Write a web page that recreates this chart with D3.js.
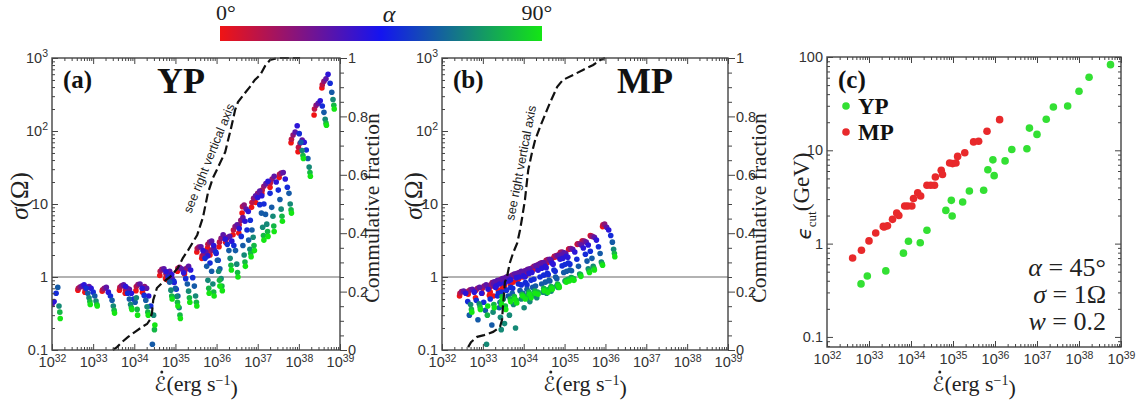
<!DOCTYPE html>
<html><head><meta charset="utf-8">
<script src="https://cdn.jsdelivr.net/npm/d3@7"></script>
<style>body{margin:0;background:#fff;}svg{display:block;}
.serif{font-family:"Liberation Serif","Times New Roman",serif;}
.sans{font-family:"Liberation Sans",Arial,Helvetica,sans-serif;}
</style>
</head><body>
<svg id="fig" width="1145" height="401"></svg>
<script>
// ---------------- DATA ----------------
const alphaDeg = [0, 10, 20, 30, 40, 50, 60, 70, 80, 90];
// horizontal offset (dex) of each alpha within one pulsar's streak
const alphaShiftDex = [0, 0.01, 0.05, 0.10, 0.15, 0.20, 0.24, 0.27, 0.29, 0.30];

// Panel (a) YP: log10 Edot of the alpha=0 point, sigma per alpha
const ypLogEdot = [31.90, 32.63, 32.80, 33.22, 33.64, 33.78, 34.04, 34.20, 34.62, 34.76, 34.82, 35.05, 35.22,
  35.52, 35.64, 35.78, 35.84, 36.06, 36.22, 36.40, 36.54, 36.62, 36.85, 36.95, 37.10, 37.30, 37.52, 37.81, 37.98,
  38.37, 38.56];
const ypSigma = [
  [0.5, 0.49, 0.45, 0.42, 0.46, 0.6, 0.72, 0.4, 0.33, 0.27],
  [0.66, 0.7, 0.73, 0.75, 0.78, 0.7, 0.6, 0.52, 0.46, 0.42],
  [0.62, 0.68, 0.72, 0.74, 0.7, 0.62, 0.55, 0.47, 0.42, 0.4],
  [0.64, 0.67, 0.7, 0.72, 0.62, 0.55, 0.48, 0.4, 0.35, 0.32],
  [0.66, 0.72, 0.76, 0.78, 0.74, 0.6, 0.5, 0.42, 0.38, 0.36],
  [0.6, 0.67, 0.7, 0.68, 0.6, 0.5, 0.45, 0.52, 0.36, 0.3],
  [0.65, 0.74, 0.79, 0.8, 0.7, 0.56, 0.48, 0.39, 0.33, 0.3],
  [0.62, 0.7, 0.74, 0.7, 0.55, 0.4, 0.12, 0.3, 0.19, 0.22],
  [1.05, 1.2, 1.27, 1.3, 1.18, 1.0, 0.85, 0.66, 0.55, 0.5],
  [0.95, 1.1, 1.17, 1.2, 1.08, 0.88, 0.7, 0.54, 0.45, 0.4],
  [0.9, 0.98, 1.0, 0.95, 0.84, 0.68, 0.55, 0.38, 0.3, 0.27],
  [1.2, 1.32, 1.36, 1.3, 1.14, 0.95, 0.8, 0.64, 0.52, 0.45],
  [1.1, 1.22, 1.32, 1.4, 1.25, 0.98, 0.75, 0.55, 0.45, 0.4],
  [2.2, 2.45, 2.58, 2.6, 2.3, 1.8, 1.4, 0.9, 0.7, 0.6],
  [1.8, 1.95, 2.1, 2.2, 1.95, 1.55, 1.2, 0.8, 0.62, 0.55],
  [2.5, 2.8, 3.0, 3.1, 2.7, 2.2, 1.7, 1.2, 0.9, 0.75],
  [2.0, 2.25, 2.35, 2.4, 2.1, 1.7, 1.3, 0.95, 0.75, 0.65],
  [2.6, 3.0, 3.4, 3.8, 3.3, 2.8, 2.3, 1.8, 1.45, 1.25],
  [3.0, 3.3, 3.5, 3.6, 3.1, 2.7, 2.3, 1.5, 1.15, 1.0],
  [3.8, 4.4, 4.9, 5.2, 4.6, 3.6, 2.7, 2.0, 1.6, 1.4],
  [4.0, 5.2, 6.0, 6.5, 5.8, 4.4, 3.2, 2.4, 2.1, 1.9],
  [7.5, 9.2, 9.7, 8.5, 7.9, 6.0, 4.4, 3.5, 2.7, 2.3],
  [9.0, 10.5, 12, 13, 12.3, 9.8, 7.5, 4.8, 3.7, 3.2],
  [10.5, 12.5, 14, 15, 13, 10, 7.2, 5.3, 4.2, 3.6],
  [14, 15.5, 17.5, 19, 20.5, 14, 9, 6.8, 5, 4.2],
  [17, 19.5, 22, 24, 20, 15.5, 11.5, 8.5, 6.8, 5.8],
  [23, 25.5, 26.5, 27, 22, 17, 14, 10, 8.3, 7.5],
  [69, 77, 88, 97, 118, 92, 70, 54, 46, 42],
  [52, 60, 68, 75, 70, 55, 42, 32, 27, 24],
  [166, 200, 225, 240, 260, 220, 180, 145, 128, 120],
  [389, 430, 480, 520, 600, 450, 340, 270, 225, 200]
];

// Panel (b) MP
const mpLogEdot = [32.43, 32.64, 32.82, 32.98, 33.16, 33.18, 33.26, 33.38, 33.48, 33.53, 33.67, 33.74, 33.84, 33.88,
  33.98, 34.05, 34.20, 34.29, 34.38, 34.40, 34.54, 34.57, 34.74, 34.81, 34.89, 34.93, 35.10, 35.31, 35.43, 35.63, 35.93];
const mpSigma = [
  [0.55, 0.6, 0.63, 0.64, 0.6, 0.46, 0.3, 0.42, 0.36, 0.33],
  [0.58, 0.64, 0.67, 0.68, 0.62, 0.48, 0.26, 0.43, 0.39, 0.36],
  [0.52, 0.66, 0.7, 0.72, 0.6, 0.45, 0.35, 0.12, 0.3, 0.4],
  [0.6, 0.7, 0.75, 0.78, 0.68, 0.5, 0.22, 0.33, 0.42, 0.38],
  [0.56, 0.72, 0.77, 0.8, 0.72, 0.55, 0.38, 0.28, 0.46, 0.42],
  [0.62, 0.78, 0.84, 0.86, 0.76, 0.6, 0.45, 0.19, 0.54, 0.5],
  [0.55, 0.75, 0.85, 0.9, 0.8, 0.62, 0.5, 0.23, 0.4, 0.36],
  [0.66, 0.85, 0.92, 0.95, 0.82, 0.66, 0.55, 0.3, 0.5, 0.46],
  [0.7, 0.9, 0.97, 1.0, 0.88, 0.72, 0.6, 0.42, 0.54, 0.5],
  [0.74, 0.92, 0.99, 1.02, 0.92, 0.7, 0.52, 0.2, 0.48, 0.44],
  [0.8, 0.98, 1.06, 1.1, 0.98, 0.8, 0.65, 0.5, 0.58, 0.55],
  [0.85, 1.02, 1.09, 1.12, 1.0, 0.78, 0.6, 0.38, 0.54, 0.5],
  [0.9, 1.07, 1.15, 1.2, 1.04, 0.84, 0.68, 0.52, 0.62, 0.58],
  [0.95, 1.1, 1.15, 1.18, 1.0, 0.78, 0.6, 0.46, 0.56, 0.52],
  [1.0, 1.16, 1.22, 1.25, 1.12, 0.9, 0.72, 0.56, 0.64, 0.6],
  [1.05, 1.2, 1.27, 1.3, 1.15, 0.93, 0.75, 0.52, 0.62, 0.58],
  [1.2, 1.34, 1.4, 1.42, 1.24, 1.0, 0.8, 0.62, 0.7, 0.65],
  [1.3, 1.42, 1.47, 1.5, 1.32, 1.06, 0.85, 0.6, 0.67, 0.62],
  [1.42, 1.52, 1.56, 1.58, 1.4, 1.12, 0.9, 0.7, 0.74, 0.7],
  [1.35, 1.47, 1.5, 1.52, 1.34, 1.08, 0.88, 0.64, 0.72, 0.68],
  [1.6, 1.7, 1.74, 1.75, 1.55, 1.25, 1.0, 0.76, 0.8, 0.76],
  [1.55, 1.65, 1.69, 1.7, 1.5, 1.2, 0.95, 0.72, 0.76, 0.72],
  [1.85, 1.92, 1.95, 1.95, 1.75, 1.42, 1.15, 0.88, 0.9, 0.85],
  [1.9, 1.98, 2.0, 2.0, 1.8, 1.48, 1.2, 0.92, 0.93, 0.88],
  [2.1, 2.18, 2.2, 2.15, 1.92, 1.55, 1.25, 0.98, 0.97, 0.92],
  [2.0, 2.1, 2.12, 2.1, 1.86, 1.5, 1.22, 0.95, 0.95, 0.9],
  [2.4, 2.44, 2.45, 2.4, 2.2, 1.75, 1.4, 1.1, 1.08, 1.02],
  [2.8, 2.84, 2.85, 2.75, 2.5, 2.05, 1.65, 1.3, 1.22, 1.15],
  [3.1, 3.12, 3.1, 3.0, 2.75, 2.25, 1.8, 1.4, 1.32, 1.25],
  [3.7, 3.65, 3.6, 3.5, 3.2, 2.6, 2.1, 1.6, 1.52, 1.45],
  [4.9, 5.2, 5.3, 4.8, 4.4, 3.7, 3.0, 2.4, 2.1, 1.9]
];

// Cumulative fraction curves (right axis)
const cumYpLogEdot = [33.48, 33.58, 33.70, 33.85, 34.02, 34.19, 34.31, 34.38, 34.43, 34.46, 34.55, 34.67, 34.87, 35.06,
  35.18, 35.31, 35.53, 35.67, 35.79, 35.91, 36.04, 36.21, 36.28, 36.33, 36.38, 36.45, 36.52, 36.69, 36.81, 36.93,
  37.06, 37.18, 37.30, 37.49, 38.03];
const cumYpFrac = [0, 0.010, 0.027, 0.045, 0.062, 0.079, 0.089, 0.103, 0.127, 0.171, 0.212, 0.229, 0.25, 0.281,
  0.315, 0.342, 0.394, 0.455, 0.538, 0.589, 0.627, 0.678, 0.719, 0.747, 0.777, 0.822, 0.849, 0.880, 0.901, 0.925,
  0.942, 0.973, 0.993, 1.0, 1.0];
const cumMpLogEdot = [32.64, 32.71, 32.86, 33.03, 33.25, 33.42, 33.47, 33.49, 33.52, 33.54, 33.59, 33.66, 33.74, 33.84,
  33.91, 33.96, 34.03, 34.11, 34.20, 34.28, 34.40, 34.52, 34.64, 34.82, 34.96, 35.21, 35.45, 35.70, 35.87, 35.99];
const cumMpFrac = [0.010, 0.027, 0.045, 0.051, 0.062, 0.079, 0.103, 0.147, 0.195, 0.233, 0.25, 0.298, 0.332, 0.366,
  0.411, 0.452, 0.514, 0.616, 0.675, 0.719, 0.764, 0.805, 0.846, 0.901, 0.925, 0.942, 0.959, 0.976, 0.993, 1.0];

// Panel (c): cutoff energy at alpha=45, sigma=1, w=0.2
const cutYpLogEdot = [32.81, 32.96, 33.40, 33.82, 33.94, 34.22, 34.38, 34.83, 34.96, 34.98, 35.23, 35.39, 35.73, 35.83,
  35.95, 35.98, 36.24, 36.40, 36.76, 36.82, 37.00, 37.22, 37.39, 37.73, 38.00, 38.24, 38.75];
const cutYpGeV = [0.37, 0.45, 0.51, 0.79, 1.06, 1.02, 1.39, 2.27, 2.91, 1.98, 2.79, 3.66, 3.73, 6.2, 7.9, 5.35, 7.7,
  10.2, 10.4, 17.3, 14.8, 21.5, 29.1, 29.9, 42.9, 60.6, 82.8];
const cutMpLogEdot = [32.61, 32.82, 33.00, 33.16, 33.34, 33.36, 33.44, 33.56, 33.66, 33.71, 33.85, 33.92, 34.02, 34.06,
  34.16, 34.23, 34.38, 34.47, 34.56, 34.58, 34.72, 34.75, 34.92, 34.99, 35.07, 35.11, 35.28, 35.49, 35.61, 35.81, 36.11];
const cutMpGeV = [0.70, 0.85, 1.07, 1.30, 1.53, 1.51, 1.55, 1.82, 2.13, 2.0, 2.53, 2.53, 2.53, 3.04, 3.5, 3.24, 4.22,
  4.22, 4.22, 5.18, 6.1, 5.5, 7.3, 7.2, 7.3, 8.6, 9.4, 12.3, 12.5, 16, 21.3];

// Tick labels
const xTickExponents = [32, 33, 34, 35, 36, 37, 38, 39];
const sigmaTickLabels = [["0.1", ""], ["1", ""], ["10", ""], ["10", "2"], ["10", "3"]];
const fracTickLabels = ["0", "0.2", "0.4", "0.6", "0.8", "1"];
const cutTickLabels = ["0.1", "1", "10", "100"];

// ---------------- DRAWING ----------------
const svg = d3.select('#fig');
const axisColor = '#444';
const labelColor = '#333';

const P = {
  a: {l: 52, r: 340, t: 58, b: 350},
  b: {l: 442, r: 728, t: 58, b: 350},
  c: {l: 827, r: 1121, t: 57, b: 347}
};

const alphaColor = d3.scaleLinear().domain([0, 45, 90]).range(['#f01414', '#1414f0', '#14e614']);

function txt(parent, cls, size) {
  return parent.append('text').attr('class', cls).style('font-size', size + 'px').attr('fill', '#222');
}

// colorbar
const defs = svg.append('defs');
const grad = defs.append('linearGradient').attr('id', 'cbar');
[0, 45, 90].forEach(a => grad.append('stop').attr('offset', (a / 90 * 100) + '%').attr('stop-color', alphaColor(a)));
svg.append('rect').attr('x', 220).attr('y', 26).attr('width', 322).attr('height', 15).attr('fill', 'url(#cbar)');
txt(svg, 'serif', 22).attr('x', 226).attr('y', 20).attr('text-anchor', 'middle').text('0°');
txt(svg, 'serif', 22).attr('x', 537).attr('y', 20).attr('text-anchor', 'middle').text('90°');
txt(svg, 'serif', 24).attr('x', 389).attr('y', 22).attr('text-anchor', 'middle').style('font-style', 'italic').text('α');

function isMajor(v) { const l = Math.log10(v); return Math.abs(l - Math.round(l)) < 1e-6; }

function styleAxis(sel) {
  sel.select('.domain').remove();
  sel.selectAll('.tick line').attr('stroke', axisColor).attr('stroke-width', 1);
  sel.selectAll('.tick text').attr('fill', labelColor).attr('font-family', null).attr('font-size', null)
    .attr('class', 'sans').style('font-size', '14.5px');
}

function supLabel(textSel, base, exp) {
  textSel.text(null);
  textSel.append('tspan').text(base);
  if (exp) textSel.append('tspan').attr('dy', '-0.55em').style('font-size', '10.5px').text(exp);
}

function logXAxes(g, x, p) {
  const all = x.ticks();
  const majors = all.filter(isMajor), minors = all.filter(v => !isMajor(v));
  g.append('g').attr('transform', `translate(0,${p.b})`)
    .call(d3.axisBottom(x).tickValues(minors).tickSize(-3).tickSizeOuter(0).tickFormat('')).call(styleAxis);
  g.append('g').attr('transform', `translate(0,${p.t})`)
    .call(d3.axisTop(x).tickValues(minors).tickSize(-3).tickSizeOuter(0).tickFormat('')).call(styleAxis);
  g.append('g').attr('transform', `translate(0,${p.t})`)
    .call(d3.axisTop(x).tickValues(majors).tickSize(-6).tickSizeOuter(0).tickFormat('')).call(styleAxis);
  const bx = g.append('g').attr('transform', `translate(0,${p.b})`)
    .call(d3.axisBottom(x).tickValues(majors).tickSize(-6).tickSizeOuter(0).tickPadding(7)).call(styleAxis);
  bx.selectAll('.tick text').each(function (d, i) { supLabel(d3.select(this), '10', String(xTickExponents[i])); });
}

function logYAxes(g, y, p, labels, mirror) {
  const all = y.ticks();
  const majors = all.filter(isMajor).filter(v => v >= y.domain()[0] - 1e-12 && v <= y.domain()[1] * 1.000001);
  const minors = all.filter(v => !isMajor(v));
  g.append('g').attr('transform', `translate(${p.l},0)`)
    .call(d3.axisLeft(y).tickValues(minors).tickSize(-3).tickSizeOuter(0).tickFormat('')).call(styleAxis);
  const ly = g.append('g').attr('transform', `translate(${p.l},0)`)
    .call(d3.axisLeft(y).tickValues(majors).tickSize(-6).tickSizeOuter(0).tickPadding(4)).call(styleAxis);
  ly.selectAll('.tick text').each(function (d, i) { const l = labels[i]; supLabel(d3.select(this), l[0], l[1]); });
  if (mirror) {
    g.append('g').attr('transform', `translate(${p.r},0)`)
      .call(d3.axisRight(y).tickValues(minors).tickSize(-3).tickSizeOuter(0).tickFormat('')).call(styleAxis);
    g.append('g').attr('transform', `translate(${p.r},0)`)
      .call(d3.axisRight(y).tickValues(majors).tickSize(-6).tickSizeOuter(0).tickFormat('')).call(styleAxis);
  }
}

function fracAxis(g, yf, p) {
  const minors = d3.range(0, 1.0001, 0.05).filter((v, i) => i % 4 !== 0);
  g.append('g').attr('transform', `translate(${p.r},0)`)
    .call(d3.axisRight(yf).tickValues(minors).tickSize(4).tickSizeOuter(0).tickFormat('')).call(styleAxis);
  g.append('g').attr('transform', `translate(${p.r},0)`)
    .call(d3.axisRight(yf).tickValues([0, 0.2, 0.4, 0.6, 0.8, 1]).tickSize(7).tickSizeOuter(0).tickPadding(1)
      .tickFormat((d, i) => fracTickLabels[i])).call(styleAxis);
}

function frame(g, p) {
  g.append('rect').attr('x', p.l).attr('y', p.t).attr('width', p.r - p.l).attr('height', p.b - p.t)
    .attr('fill', 'none').attr('stroke', axisColor).attr('stroke-width', 1.4);
}

function clip(id, p) {
  defs.append('clipPath').attr('id', id).append('rect').attr('x', p.l).attr('y', p.t)
    .attr('width', p.r - p.l).attr('height', p.b - p.t);
}

function xLabel(g, cx) {
  const t = txt(g, 'serif', 22).attr('x', cx).attr('y', 391).attr('text-anchor', 'middle');
  t.append('tspan').style('font-family', '"DejaVu Sans",sans-serif').style('font-style', 'italic').style('font-size', '20px').text('ℰ');
  t.append('tspan').text('(erg s');
  t.append('tspan').attr('dy', '-0.45em').style('font-size', '14px').text('−1');
  t.append('tspan').attr('dy', '0.45em').text(')');
  const ext = t.node().getExtentOfChar(0);
  g.append('circle').attr('cx', ext.x + ext.width * 0.62).attr('cy', 372).attr('r', 1.5).attr('fill', '#222');
}

function sigmaLabel(g, cx, cy) {
  const t = txt(g, 'serif', 25).attr('transform', `translate(${cx},${cy}) rotate(-90)`).attr('text-anchor', 'middle')
    .attr('dy', '0.35em');
  t.append('tspan').style('font-style', 'italic').text('σ');
  t.append('tspan').text('(Ω)');
}

function fracLabel(g, cx, cy) {
  txt(g, 'serif', 21.5).attr('transform', `translate(${cx},${cy}) rotate(-90)`).attr('text-anchor', 'middle')
    .attr('dy', '0.35em').text('Commulative fraction');
}

function sigmaPanel(key, logE, sig, cumE, cumF, tag, name, nameX, noteStart, noteAngle) {
  const p = P[key];
  const g = svg.append('g');
  const x = d3.scaleLog().domain([1e32, 1e39]).range([p.l, p.r]);
  const y = d3.scaleLog().domain([0.1, 1000]).range([p.b, p.t]);
  const yf = d3.scaleLinear().domain([0, 1]).range([p.b, p.t]);
  clip('clip' + key, p);
  g.append('line').attr('x1', p.l).attr('x2', p.r).attr('y1', y(1)).attr('y2', y(1))
    .attr('stroke', '#999').attr('stroke-width', 1.3);
  const pts = [];
  logE.forEach((e, i) => sig[i].forEach((s, j) => pts.push({e: e + alphaShiftDex[j], s, a: alphaDeg[j]})));
  pts.sort((u, v) => u.a - v.a);
  g.append('g').attr('clip-path', `url(#clip${key})`).selectAll('circle').data(pts).join('circle')
    .attr('cx', d => x(Math.pow(10, d.e))).attr('cy', d => y(d.s)).attr('r', 2.8)
    .attr('fill', d => alphaColor(d.a));
  const line = d3.line().x((d, i) => x(Math.pow(10, cumE[i]))).y((d, i) => yf(cumF[i]));
  g.append('path').datum(cumE).attr('d', line).attr('fill', 'none').attr('stroke', '#111')
    .attr('stroke-width', 2.2).attr('stroke-dasharray', '9,4');
  txt(g, 'sans', 12.5).attr('transform', `translate(${noteStart[0]},${noteStart[1]}) rotate(${noteAngle})`)
    .text('see right vertical axis');
  frame(g, p);
  logXAxes(g, x, p);
  logYAxes(g, y, p, sigmaTickLabels, false);
  fracAxis(g, yf, p);
  txt(g, 'serif', 25).attr('x', p.l + 11).attr('y', 88).style('font-weight', 'bold').attr('fill', '#111').text(tag);
  txt(g, 'serif', 36).attr('x', nameX).attr('y', 93).style('font-weight', 'bold').attr('fill', '#111').text(name);
  xLabel(g, (p.l + p.r) / 2);
}

sigmaPanel('a', ypLogEdot, ypSigma, cumYpLogEdot, cumYpFrac, '(a)', 'YP', 157, [191, 214], -68);
sigmaPanel('b', mpLogEdot, mpSigma, cumMpLogEdot, cumMpFrac, '(b)', 'MP', 617, [514, 221], -79);
sigmaLabel(svg, 19, 196);
sigmaLabel(svg, 413, 196);
fracLabel(svg, 371, 208);
fracLabel(svg, 758, 208);

// Panel (c)
(function () {
  const p = P.c;
  const g = svg.append('g');
  const x = d3.scaleLog().domain([1e32, 1e39]).range([p.l, p.r]);
  const y = d3.scaleLog().domain([0.078, 100]).range([p.b, p.t]);
  const yp = cutYpLogEdot.map((e, i) => ({e, v: cutYpGeV[i]}));
  const mp = cutMpLogEdot.map((e, i) => ({e, v: cutMpGeV[i]}));
  g.append('g').selectAll('circle').data(mp).join('circle')
    .attr('cx', d => x(Math.pow(10, d.e))).attr('cy', d => y(d.v)).attr('r', 3.8).attr('fill', '#e8292b');
  g.append('g').selectAll('circle').data(yp).join('circle')
    .attr('cx', d => x(Math.pow(10, d.e))).attr('cy', d => y(d.v)).attr('r', 3.8).attr('fill', '#33e033');
  frame(g, p);
  logXAxes(g, x, p);
  logYAxes(g, y, p, cutTickLabels.map(s => [s, '']), true);
  txt(g, 'serif', 25).attr('x', 838).attr('y', 88).style('font-weight', 'bold').attr('fill', '#111').text('(c)');
  g.append('circle').attr('cx', 846).attr('cy', 106).attr('r', 3.8).attr('fill', '#33e033');
  txt(g, 'serif', 23).attr('x', 858).attr('y', 114).style('font-weight', 'bold').attr('fill', '#111').text('YP');
  g.append('circle').attr('cx', 846).attr('cy', 132).attr('r', 3.8).attr('fill', '#e8292b');
  txt(g, 'serif', 23).attr('x', 858).attr('y', 140).style('font-weight', 'bold').attr('fill', '#111').text('MP');
  const notes = [['α', ' = 45°', 276], ['σ', ' = 1Ω', 303], ['w', ' = 0.2', 330]];
  notes.forEach(n => {
    const t = txt(g, 'serif', 26).attr('x', 1106).attr('y', n[2]).attr('text-anchor', 'end')
      .style('white-space', 'pre');
    t.append('tspan').style('font-style', 'italic').text(n[0]);
    t.append('tspan').text(n[1]);
  });
  const t = txt(g, 'serif', 23).attr('transform', 'translate(803,196) rotate(-90)').attr('text-anchor', 'middle')
    .attr('dy', '0.35em');
  t.append('tspan').style('font-style', 'italic').style('font-family', '"DejaVu Sans",sans-serif').style('font-size', '20px').text('ϵ');
  t.append('tspan').style('font-size', '13px').attr('dy', '0.4em').text('cut');
  t.append('tspan').attr('dy', '-0.3em').text('(GeV)');
  xLabel(g, (p.l + p.r) / 2);
})();
</script>
</body></html>
